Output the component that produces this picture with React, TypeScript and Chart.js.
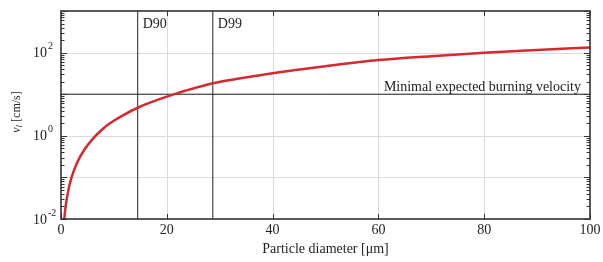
import React, { useEffect, useRef } from "react";
import { Chart, registerables } from "chart.js";

Chart.register(...registerables);

// Particle diameter [µm] and burning velocity v_l [cm/s]
const DIAMETER = [0.62, 0.8, 1.0, 1.4, 2.0, 3.0, 4.5, 6.1, 8, 9.26, 11.8, 14.6, 18.1, 21.9, 25, 28.7, 34, 40, 50, 60, 70, 80, 90, 100];
const VELOCITY = [0.01, 0.0165, 0.0256, 0.05, 0.1, 0.22, 0.48, 0.87, 1.5, 2.0, 3.15, 4.79, 7.2, 10.5, 13.7, 18.4, 24.2, 32, 47, 66, 82, 99, 115, 133];

const D90 = 14.5;
const D99 = 28.7;
const V_MIN = 10;

const X_TICKS = [0, 20, 40, 60, 80, 100];
const Y_DECADES = [-2, -1, 0, 1, 2, 3];
const Y_LABELED = [-2, 0, 2];

const SERIF = "'Liberation Serif', 'Times New Roman', serif";
const AXIS_COLOR = "#333333";
const GRID_COLOR = "#dadada";

const decoPlugin = {
  id: "deco",
  beforeDatasetsDraw(chart: any) {
    const { ctx, chartArea: a, scales } = chart;
    const x = scales.x, y = scales.y;
    ctx.save();
    ctx.strokeStyle = GRID_COLOR;
    ctx.lineWidth = 1;
    for (const t of X_TICKS) {
      if (t === 0 || t === 100) continue;
      const px = Math.round(x.getPixelForValue(t)) + 0.5;
      ctx.beginPath();
      ctx.moveTo(px, a.top);
      ctx.lineTo(px, a.bottom);
      ctx.stroke();
    }
    for (const e of Y_DECADES) {
      if (e === -2 || e === 3) continue;
      const py = Math.round(y.getPixelForValue(Math.pow(10, e))) + 0.5;
      ctx.beginPath();
      ctx.moveTo(a.left, py);
      ctx.lineTo(a.right, py);
      ctx.stroke();
    }
    ctx.restore();
  },
  afterDatasetsDraw(chart: any) {
    const { ctx, chartArea: a, scales } = chart;
    const x = scales.x, y = scales.y;
    ctx.save();
    // ticks
    ctx.strokeStyle = AXIS_COLOR;
    ctx.lineWidth = 1;
    for (const t of X_TICKS) {
      const px = Math.round(x.getPixelForValue(t)) + 0.5;
      ctx.beginPath();
      ctx.moveTo(px, a.bottom);
      ctx.lineTo(px, a.bottom - 5);
      ctx.moveTo(px, a.top);
      ctx.lineTo(px, a.top + 5);
      ctx.stroke();
    }
    for (const e of Y_DECADES) {
      for (let m = 1; m <= 9; m++) {
        const v = m * Math.pow(10, e);
        if (v > 1000) continue;
        const py = Math.round(y.getPixelForValue(v)) + 0.5;
        const len = m === 1 ? 6 : 3.5;
        ctx.beginPath();
        ctx.moveTo(a.left, py);
        ctx.lineTo(a.left + len, py);
        ctx.moveTo(a.right, py);
        ctx.lineTo(a.right - len, py);
        ctx.stroke();
      }
    }
    // frame
    ctx.lineWidth = 1.6;
    ctx.strokeRect(a.left, a.top, a.right - a.left, a.bottom - a.top);

    ctx.fillStyle = "#222";
    // x tick labels
    ctx.font = `14px ${SERIF}`;
    ctx.textAlign = "center";
    ctx.textBaseline = "middle";
    for (const t of X_TICKS) {
      ctx.fillText(String(t), x.getPixelForValue(t), a.bottom + 11);
    }
    // x title
    ctx.font = `14px ${SERIF}`;
    ctx.fillText("Particle diameter [\u03bcm]", (a.left + a.right) / 2, a.bottom + 30);

    // y tick labels 10^n
    for (const e of Y_LABELED) {
      const py = y.getPixelForValue(Math.pow(10, e));
      ctx.font = `14px ${SERIF}`;
      ctx.textAlign = "right";
      ctx.textBaseline = "middle";
      ctx.fillText("10", a.left - 14, py + 1);
      ctx.font = `10px ${SERIF}`;
      ctx.textAlign = "left";
      ctx.fillText(e < 0 ? "-" + Math.abs(e) : String(e), a.left - 13, py - 6);
    }

    // y title (rotated)
    ctx.save();
    ctx.translate(17, 112);
    ctx.rotate(-Math.PI / 2);
    ctx.textBaseline = "middle";
    ctx.textAlign = "left";
    const main = "v";
    const sub = "l";
    const rest = " [cm/s]";
    ctx.font = `italic 12px ${SERIF}`;
    const w1 = ctx.measureText(main).width;
    ctx.font = `italic 9px ${SERIF}`;
    const w2 = ctx.measureText(sub).width;
    ctx.font = `12px ${SERIF}`;
    const w3 = ctx.measureText(rest).width;
    let sx = -(w1 + w2 + w3) / 2;
    ctx.font = `italic 12px ${SERIF}`;
    ctx.fillText(main, sx, 0);
    sx += w1;
    ctx.font = `italic 9px ${SERIF}`;
    ctx.fillText(sub, sx, 3);
    sx += w2;
    ctx.font = `12px ${SERIF}`;
    ctx.fillText(rest, sx, 0);
    ctx.restore();

    // annotations
    ctx.font = `14px ${SERIF}`;
    ctx.textAlign = "left";
    ctx.textBaseline = "alphabetic";
    ctx.fillText("D90", x.getPixelForValue(D90) + 5, a.top + 17);
    ctx.fillText("D99", x.getPixelForValue(D99) + 5, a.top + 17);
    ctx.font = `14px ${SERIF}`;
    ctx.textAlign = "right";
    ctx.fillText("Minimal expected burning velocity", a.right - 9, y.getPixelForValue(V_MIN) - 3);
    ctx.restore();
  },
};

export default function App() {
  const ref = useRef<HTMLCanvasElement | null>(null);
  useEffect(() => {
    if (!ref.current) return;
    const curve = DIAMETER.map((d, i) => ({ x: d, y: VELOCITY[i] }));
    const chart = new Chart(ref.current, {
      type: "line",
      data: {
        datasets: [
          {
            data: curve,
            borderColor: "#d42a2f",
            borderWidth: 2.5,
            pointRadius: 0,
            cubicInterpolationMode: "monotone",
            fill: false,
          },
          {
            data: [{ x: D90, y: 0.01 }, { x: D90, y: 1000 }],
            borderColor: "#222",
            borderWidth: 1,
            pointRadius: 0,
          },
          {
            data: [{ x: D99, y: 0.01 }, { x: D99, y: 1000 }],
            borderColor: "#222",
            borderWidth: 1,
            pointRadius: 0,
          },
          {
            data: [{ x: 0, y: V_MIN }, { x: 100, y: V_MIN }],
            borderColor: "#222",
            borderWidth: 1,
            pointRadius: 0,
          },
        ],
      },
      options: {
        animation: false,
        responsive: false,
        layout: { padding: { left: 61, right: 13, top: 11, bottom: 43 } },
        plugins: { legend: { display: false }, tooltip: { enabled: false } },
        scales: {
          x: { type: "linear", min: 0, max: 100, display: false },
          y: { type: "logarithmic", min: 0.01, max: 1000, display: false },
        },
      },
      plugins: [decoPlugin],
    });
    return () => chart.destroy();
  }, []);
  return (
    <div style={{ position: "absolute", left: 0, top: 0, width: 603, height: 262, background: "#fff" }}>
      <canvas ref={ref} width={603} height={262} style={{ width: 603, height: 262 }} />
    </div>
  );
}
